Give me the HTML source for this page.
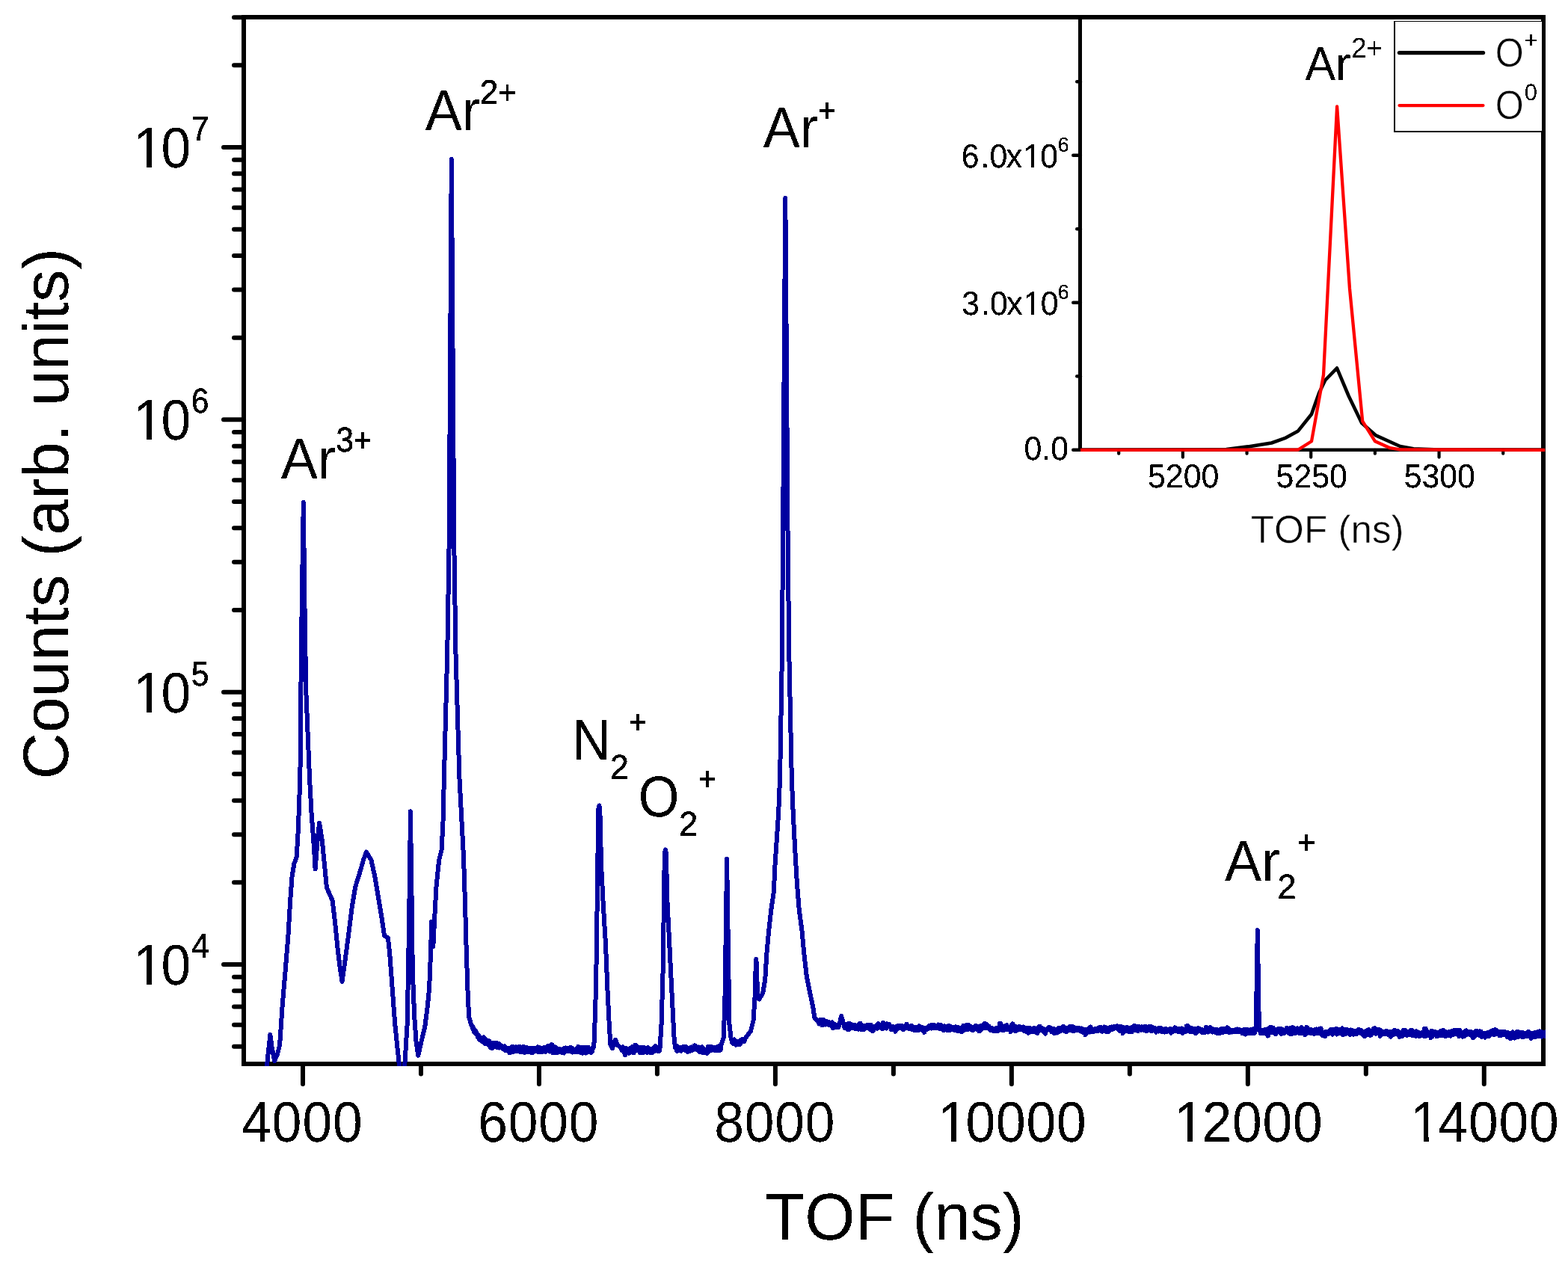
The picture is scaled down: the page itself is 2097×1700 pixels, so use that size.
<!DOCTYPE html>
<html lang="en"><head><meta charset="utf-8"><title>TOF spectrum</title>
<style>
html,body{margin:0;padding:0;background:#fff;}
body{width:2097px;height:1700px;overflow:hidden;}
svg{display:block;}
text{text-rendering:geometricPrecision;font-kerning:none;white-space:pre;}
</style></head>
<body>
<svg xmlns="http://www.w3.org/2000/svg" width="2097" height="1700" viewBox="0 0 2097 1700">
<defs><filter id="bw" x="-5%" y="-5%" width="110%" height="110%" color-interpolation-filters="sRGB"><feComponentTransfer><feFuncA type="discrete" tableValues="0 1"/></feComponentTransfer></filter></defs>
<rect width="2097" height="1700" fill="#fff"/>
<!-- main frame -->
<g stroke="#000" stroke-width="6" fill="none" stroke-linecap="butt">
<line x1="326.0" y1="20.0" x2="326.0" y2="1426.0"/>
<line x1="323.0" y1="1423.0" x2="2067.0" y2="1423.0"/>
<line x1="326.0" y1="23.0" x2="2067.0" y2="23.0"/>
<line x1="2064.0" y1="23.0" x2="2064.0" y2="1423.0"/>
</g>
<!-- main ticks -->
<g stroke="#000" stroke-width="6" fill="none" stroke-linecap="round">
<line x1="313.0" y1="1399.67" x2="326.0" y2="1399.67"/>
<line x1="313.0" y1="1370.83" x2="326.0" y2="1370.83"/>
<line x1="313.0" y1="1346.44" x2="326.0" y2="1346.44"/>
<line x1="313.0" y1="1325.31" x2="326.0" y2="1325.31"/>
<line x1="313.0" y1="1306.67" x2="326.0" y2="1306.67"/>
<line x1="299.0" y1="1290.00" x2="326.0" y2="1290.00"/>
<line x1="313.0" y1="1180.33" x2="326.0" y2="1180.33"/>
<line x1="313.0" y1="1116.17" x2="326.0" y2="1116.17"/>
<line x1="313.0" y1="1070.65" x2="326.0" y2="1070.65"/>
<line x1="313.0" y1="1035.34" x2="326.0" y2="1035.34"/>
<line x1="313.0" y1="1006.50" x2="326.0" y2="1006.50"/>
<line x1="313.0" y1="982.11" x2="326.0" y2="982.11"/>
<line x1="313.0" y1="960.98" x2="326.0" y2="960.98"/>
<line x1="313.0" y1="942.34" x2="326.0" y2="942.34"/>
<line x1="299.0" y1="925.67" x2="326.0" y2="925.67"/>
<line x1="313.0" y1="816.00" x2="326.0" y2="816.00"/>
<line x1="313.0" y1="751.84" x2="326.0" y2="751.84"/>
<line x1="313.0" y1="706.32" x2="326.0" y2="706.32"/>
<line x1="313.0" y1="671.01" x2="326.0" y2="671.01"/>
<line x1="313.0" y1="642.17" x2="326.0" y2="642.17"/>
<line x1="313.0" y1="617.78" x2="326.0" y2="617.78"/>
<line x1="313.0" y1="596.65" x2="326.0" y2="596.65"/>
<line x1="313.0" y1="578.01" x2="326.0" y2="578.01"/>
<line x1="299.0" y1="561.34" x2="326.0" y2="561.34"/>
<line x1="313.0" y1="451.67" x2="326.0" y2="451.67"/>
<line x1="313.0" y1="387.51" x2="326.0" y2="387.51"/>
<line x1="313.0" y1="341.99" x2="326.0" y2="341.99"/>
<line x1="313.0" y1="306.68" x2="326.0" y2="306.68"/>
<line x1="313.0" y1="277.84" x2="326.0" y2="277.84"/>
<line x1="313.0" y1="253.45" x2="326.0" y2="253.45"/>
<line x1="313.0" y1="232.32" x2="326.0" y2="232.32"/>
<line x1="313.0" y1="213.68" x2="326.0" y2="213.68"/>
<line x1="299.0" y1="197.01" x2="326.0" y2="197.01"/>
<line x1="313.0" y1="87.34" x2="326.0" y2="87.34"/>
<line x1="313.0" y1="23.18" x2="326.0" y2="23.18"/>
<line x1="405.00" y1="1423.0" x2="405.00" y2="1450.0"/>
<line x1="562.98" y1="1423.0" x2="562.98" y2="1436.5"/>
<line x1="720.96" y1="1423.0" x2="720.96" y2="1450.0"/>
<line x1="878.94" y1="1423.0" x2="878.94" y2="1436.5"/>
<line x1="1036.92" y1="1423.0" x2="1036.92" y2="1450.0"/>
<line x1="1194.90" y1="1423.0" x2="1194.90" y2="1436.5"/>
<line x1="1352.88" y1="1423.0" x2="1352.88" y2="1450.0"/>
<line x1="1510.86" y1="1423.0" x2="1510.86" y2="1436.5"/>
<line x1="1668.84" y1="1423.0" x2="1668.84" y2="1450.0"/>
<line x1="1826.82" y1="1423.0" x2="1826.82" y2="1436.5"/>
<line x1="1984.80" y1="1423.0" x2="1984.80" y2="1450.0"/>
</g>
<!-- main text -->
<g font-family="'Liberation Sans', Arial, Helvetica, sans-serif" fill="#000" filter="url(#bw)">
<text transform="translate(0 1317) scale(0.97 1.04)"><tspan x="183.94 222.15" y="0" font-size="73.6">10</tspan><tspan x="263.85" y="-34.71" font-size="44.65" textLength="24.54" lengthAdjust="spacingAndGlyphs" stroke="#000" stroke-width="0.4">4</tspan></text>
<text transform="translate(0 952.67) scale(0.97 1.04)"><tspan x="183.94 222.15" y="0" font-size="73.6">10</tspan><tspan x="263.75" y="-34.71" font-size="44.65" textLength="24.54" lengthAdjust="spacingAndGlyphs" stroke="#000" stroke-width="0.4">5</tspan></text>
<text transform="translate(0 588.34) scale(0.97 1.04)"><tspan x="183.94 222.15" y="0" font-size="73.6">10</tspan><tspan x="263.56" y="-34.71" font-size="44.65" textLength="24.54" lengthAdjust="spacingAndGlyphs" stroke="#000" stroke-width="0.4">6</tspan></text>
<text transform="translate(0 224.01) scale(0.97 1.04)"><tspan x="183.94 222.15" y="0" font-size="73.6">10</tspan><tspan x="263.69" y="-34.71" font-size="44.65" textLength="24.54" lengthAdjust="spacingAndGlyphs" stroke="#000" stroke-width="0.4">7</tspan></text>
<text transform="translate(0 1526.8) scale(0.97 1.04)"><tspan x="333.35 375.13 416.91 458.68" y="0" font-size="73.6">4000</tspan></text>
<text transform="translate(0 1526.8) scale(0.97 1.04)"><tspan x="659.09 700.86 742.64 784.42" y="0" font-size="73.6">6000</tspan></text>
<text transform="translate(0 1526.8) scale(0.97 1.04)"><tspan x="984.82 1026.59 1068.37 1110.15" y="0" font-size="73.6">8000</tspan></text>
<text transform="translate(0 1526.8) scale(0.97 1.04)"><tspan x="1293.23 1331.44 1373.21 1414.99 1456.77" y="0" font-size="73.6">10000</tspan></text>
<text transform="translate(0 1526.8) scale(0.97 1.04)"><tspan x="1618.96 1657.17 1698.95 1740.72 1782.5" y="0" font-size="73.6">12000</tspan></text>
<text transform="translate(0 1526.8) scale(0.97 1.04)"><tspan x="1944.69 1982.9 2024.68 2066.46 2108.23" y="0" font-size="73.6">14000</tspan></text>
<text transform="translate(0 1658) scale(1.0 1.02)"><tspan x="1023.35" y="0" font-size="86.6">TOF (ns)</tspan></text>
<text transform="translate(91 687.2) rotate(-90)" font-size="86.4" text-anchor="middle">Counts (arb. units)</text>
<text transform="translate(0 639.7) scale(1.0 1.04)"><tspan x="375.76" y="0" font-size="73.6">Ar</tspan><tspan x="449.17" y="-34.81" font-size="44.65" textLength="23.8" lengthAdjust="spacingAndGlyphs" stroke="#000" stroke-width="0.5">3</tspan><tspan x="472.98" y="-34.52" font-size="43.42" textLength="24.12" lengthAdjust="spacingAndGlyphs" stroke="#000" stroke-width="0.6">+</tspan></text>
<text transform="translate(0 174) scale(1.0 1.04)"><tspan x="568.76" y="0" font-size="73.6">Ar</tspan><tspan x="641.68" y="-33.94" font-size="44.24" stroke="#000" stroke-width="0.5">2</tspan><tspan x="666.38" y="-33.37" font-size="43.42" textLength="24.12" lengthAdjust="spacingAndGlyphs" stroke="#000" stroke-width="0.6">+</tspan></text>
<text transform="translate(0 197.3) scale(1.0 1.04)"><tspan x="1020.76" y="0" font-size="73.6">Ar</tspan><tspan x="1093.88" y="-33.37" font-size="43.42" textLength="24.12" lengthAdjust="spacingAndGlyphs" stroke="#000" stroke-width="0.6">+</tspan></text>
<text transform="translate(0 1016) scale(1.0 1.04)"><tspan x="764.91" y="0" font-size="73.6" textLength="51.82" lengthAdjust="spacingAndGlyphs">N</tspan><tspan x="815.72" y="24.9" font-size="44.65" textLength="25.23" lengthAdjust="spacingAndGlyphs" stroke="#000" stroke-width="0.5">2</tspan><tspan x="840.88" y="-33.85" font-size="43.42" textLength="24.12" lengthAdjust="spacingAndGlyphs" stroke="#000" stroke-width="0.6">+</tspan></text>
<text transform="translate(0 1092.2) scale(1.0 1.04)"><tspan x="853.77" y="0" font-size="74.31" textLength="54.67" lengthAdjust="spacingAndGlyphs">O</tspan><tspan x="907.92" y="24.81" font-size="44.65" textLength="25.23" lengthAdjust="spacingAndGlyphs" stroke="#000" stroke-width="0.5">2</tspan><tspan x="934.08" y="-34.04" font-size="43.42" textLength="24.12" lengthAdjust="spacingAndGlyphs" stroke="#000" stroke-width="0.6">+</tspan></text>
<text transform="translate(0 1178.4) scale(1.0 1.04)"><tspan x="1638.06" y="0" font-size="73.6">Ar</tspan><tspan x="1708.32" y="23.08" font-size="44.65" textLength="25.23" lengthAdjust="spacingAndGlyphs" stroke="#000" stroke-width="0.5">2</tspan><tspan x="1735.18" y="-35.48" font-size="43.42" textLength="24.12" lengthAdjust="spacingAndGlyphs" stroke="#000" stroke-width="0.6">+</tspan></text>
</g>
<!-- TOF spectrum -->
<clipPath id="cm"><rect x="326.0" y="23.0" width="1741.0" height="1403.0"/></clipPath>
<polyline clip-path="url(#cm)" points="356.5,1430 358.5,1410 361.4,1384 363.5,1400 367.1,1419 371,1410 374.1,1397.6 377.6,1345.9 381.6,1298.8 385.4,1251.8 388.2,1204.7 390.6,1171.8 393.4,1155.3 396.7,1145.9 398.8,1110.6 400.5,1063.5 401.4,1040 402.4,922 403.8,800 405.8,672 407.3,800 409.2,922 414,1040 416.5,1087 420,1134 421.6,1162.4 424.7,1122 427.1,1101 430.6,1122.4 434.1,1157.6 436.9,1187 444.7,1204.7 448.2,1235.3 451.8,1270.6 455.3,1298.8 457.6,1312.9 461.2,1287 465.9,1251.8 470.6,1214.1 475.3,1185.9 481.2,1167 485.9,1150.6 489.9,1139.5 496.5,1150.6 501.2,1171.8 505.9,1200 510.6,1228.2 514.1,1251.8 518.8,1254 521.2,1275.3 524.7,1322.4 528.2,1369.4 531.8,1404.7 534.1,1426 536,1445 539,1445 541.2,1426 544.7,1369 546.4,1275 548.2,1157.6 548.9,1085.4 550.6,1204.7 551.8,1298.8 554.1,1357.6 556.5,1393 559.3,1411.8 563.5,1393 568.2,1374 571.8,1345.9 574.1,1322.4 576,1275.3 577.2,1233 579.3,1265.9 581.2,1228.2 583.5,1185.9 587.1,1150.6 590.6,1136.5 592.5,1098.8 593.9,1040 598.2,875 600.6,729 603.8,213 607.3,729 609.5,875 614.4,1040 616.9,1087 620,1145.9 621.9,1204.7 623.5,1263.5 625.4,1322.4 627.1,1360 630.6,1371.8 631.5,1372.5 632,1374.9 632.4,1376.3 632.9,1373.8 633.3,1376.3 633.8,1379.2 634.2,1380.7 634.8,1377.8 635.2,1377.7 635.7,1380.5 636.1,1382.6 636.6,1379.8 637,1380.9 637.5,1383.3 638,1382.4 638.5,1385.5 639,1387 639.5,1383.9 640,1385.6 640.5,1389.1 641,1390.4 641.5,1386.8 642,1387.8 642.5,1391.4 643,1391.6 643.5,1388 644,1389.2 644.5,1393.1 645,1392.6 645.5,1388.6 646,1390 646.5,1393.2 647,1387.3 647.5,1394 648,1395.5 648.5,1388.7 649,1390.1 649.5,1394.5 650,1396.4 650.5,1392 651,1391.4 651.5,1395.8 652,1396.3 652.5,1391.9 653,1391.6 653.5,1397.4 654,1398.1 654.5,1392.4 655,1393.9 655.5,1400.3 656,1401.1 656.5,1394.7 657,1397.2 657.5,1401.3 658,1402.4 658.5,1398.3 659,1396.7 659.5,1400.3 660,1399.3 660.5,1395.7 661,1394.7 661.5,1398.8 662,1399.5 662.5,1395.4 663,1394.6 663.5,1400.3 664,1400.6 664.5,1394.9 665,1395.7 665.5,1399.3 666,1399.3 666.5,1395.7 667,1398.4 667.5,1401.7 668,1400.6 668.5,1397.2 669,1398 669.5,1400.9 670,1401.4 670.5,1398.4 671,1399 671.5,1402.2 672,1402.6 672.5,1399.5 673,1400.2 673.5,1403.6 674,1403.2 674.5,1399.8 675,1399.5 675.5,1403.6 676,1405.1 676.5,1401 677,1401.4 677.5,1404.6 678,1405.3 678.5,1402.1 679,1402.3 679.5,1405.8 680,1405.7 680.5,1402.2 681,1403.7 681.5,1408.5 682,1408.1 682.5,1403.2 683,1402.5 683.5,1405.1 684,1404.1 684.5,1401.5 685,1400 685.5,1407.2 686,1407.1 686.5,1400 687,1400.6 687.5,1405.7 688,1405.8 688.5,1400.6 689,1400.5 689.5,1406 690,1405.8 690.5,1400.4 691,1403 691.5,1405.3 692,1405.7 692.5,1403.5 693,1400.3 693.5,1405.1 694,1404.5 694.5,1399.8 695,1402.1 695.5,1407 696,1406.3 696.5,1401.4 697,1400.9 697.5,1406.2 698,1407.3 698.5,1402 699,1400.5 699.5,1404.4 700,1404.1 700.5,1400.2 701,1402.1 701.5,1406.9 702,1407.9 702.5,1403.1 703,1402.2 703.5,1405.5 704,1405.5 704.5,1402.1 705,1401.2 705.5,1406.2 706,1407.1 706.5,1402.2 707,1401.6 707.5,1404.6 708,1405.7 708.5,1402.7 709.1,1402.5 709.6,1407.5 710.1,1407.7 710.6,1402.7 711.1,1401.6 711.6,1408.5 712.1,1408.5 712.6,1401.6 713.1,1403 713.6,1405.1 714.1,1404.7 714.6,1402.6 715.1,1401.7 715.6,1405.7 716.1,1405.9 716.6,1401.9 717.1,1401.6 717.6,1404.1 718.1,1405.7 718.6,1403.2 719.1,1400.4 719.6,1407.1 720.1,1407.4 720.6,1400.6 721.1,1401.9 721.6,1406.7 722.1,1406.5 722.6,1401.7 723.1,1402 723.6,1406.2 724.1,1406.9 724.6,1402.6 725.1,1404.3 725.6,1407.1 726.1,1406.8 726.6,1404 727.1,1401.3 727.6,1405.9 728.1,1405.6 728.6,1401 729.1,1401.8 729.6,1406.9 730.1,1406.5 730.6,1401.5 731.1,1401 731.6,1403.5 732.1,1403.6 732.6,1401.1 733.1,1398.7 733.6,1404.3 734.1,1405.8 734.6,1400.2 735.1,1403.7 735.6,1406.7 736.1,1406 736.6,1402.9 737.1,1397.2 737.6,1406.1 738.1,1406.4 738.6,1397.5 739.1,1403.1 739.6,1408.2 740.1,1407.2 740.6,1402.1 741.1,1400.8 741.6,1406 742.1,1405.4 742.6,1400.3 743.1,1403.6 743.6,1408.5 744.1,1407 744.6,1402.1 745.1,1403.7 745.6,1407.8 746.1,1407.6 746.6,1403.5 747.1,1403.5 747.6,1407 748.1,1406.7 748.6,1403.2 749.1,1403.9 749.6,1406.4 750.1,1406.7 750.6,1404.3 751.1,1403.8 751.6,1408.1 752.1,1408.1 752.6,1403.8 753.1,1402.9 753.6,1408.2 754.1,1408.5 754.6,1403.2 755.1,1401.9 755.6,1405.1 756.1,1404.6 756.6,1401.4 757.1,1403 757.6,1405.9 758.1,1404.9 758.6,1402 759.1,1401.9 759.6,1404.3 760.1,1404.8 760.6,1402.3 761.1,1402.5 761.6,1406.3 762.1,1405.1 762.6,1401.3 763.1,1401 763.6,1404.7 764.1,1405.1 764.6,1401.4 765.2,1403.8 765.7,1407.5 766.2,1406.9 766.7,1403.3 767.2,1403.9 767.7,1406.9 768.2,1407.3 768.7,1404.3 769.2,1404 769.7,1406.8 770.2,1407 770.7,1404.2 771.2,1402.8 771.7,1407 772.2,1406.4 772.7,1402.2 773.2,1400 773.7,1405.6 774.2,1406.1 774.7,1400.5 775.2,1401.2 775.7,1407.6 776.2,1408 776.7,1401.6 777.2,1400.8 777.7,1406.2 778.2,1406.9 778.7,1401.5 779.2,1401.8 779.7,1408.7 780.2,1407.7 780.7,1400.8 781.2,1403 781.7,1406 782.2,1406.5 782.7,1403.5 783.2,1402 783.7,1408.6 784.2,1407.9 784.7,1401.4 785.2,1400.7 785.7,1406.2 786.2,1406.2 786.7,1400.7 787.2,1402.1 787.7,1404.6 788.2,1405.9 788.7,1403.4 789.2,1404.5 789.7,1407.6 790.2,1407.9 790.7,1404.7 791.2,1402.4 791.7,1406.2 792.2,1406.3 792.7,1402.5 793.6,1401 794.7,1393 797,1322 798.1,1251.8 799,1181.2 799.9,1110.6 800.5,1081 801.4,1077.5 802.3,1082 804.1,1157.6 806.5,1204.7 810,1263.5 812.4,1322.4 814.7,1369.4 816.4,1397.6 819,1402 822.9,1390.6 826,1398 830,1401 831,1401.1 831.5,1405 832,1405.1 832.5,1401.2 833,1400.5 833.5,1404.7 834,1405.7 834.5,1401.6 835,1402.6 835.5,1409.5 836,1411.1 836.5,1404.2 837.1,1402.9 837.6,1409.1 838.1,1408.5 838.6,1402.3 839.1,1403.5 839.6,1408.1 840.1,1408.3 840.6,1403.6 841.1,1403.7 841.6,1408.7 842.1,1407.4 842.6,1402.4 843.1,1403.6 843.6,1407 844.1,1406.9 844.6,1403.5 845.1,1400.3 845.6,1406.7 846.1,1407.8 846.6,1401.5 847.2,1403.5 847.7,1408.2 848.2,1406 848.7,1401.3 849.2,1398 849.7,1404.2 850.2,1404.2 850.7,1398.1 851.2,1402 851.7,1404.5 852.2,1404.2 852.7,1401.7 853.2,1400.4 853.7,1404.3 854.2,1405.3 854.7,1401.3 855.2,1401.6 855.7,1408.1 856.2,1407.1 856.8,1400.6 857.3,1403.1 857.8,1407.8 858.3,1408 858.8,1403.3 859.3,1404.4 859.8,1408.3 860.3,1408.3 860.8,1404.5 861.3,1400.8 861.8,1406.6 862.3,1407.3 862.8,1401.5 863.3,1404 863.8,1406.7 864.3,1406.8 864.8,1404.1 865.3,1401.4 865.8,1407.8 866.4,1407.5 866.9,1401.1 867.4,1403.8 867.9,1407.1 868.4,1407.1 868.9,1403.7 869.4,1403.5 869.9,1408.1 870.4,1408 870.9,1403.4 871.4,1404 871.9,1406.8 872.4,1408.4 872.9,1405.6 873.4,1402.2 873.9,1406.2 874.4,1406.5 874.9,1402.5 875.4,1400.2 875.9,1405.9 876.5,1404.8 877,1399.1 877.5,1401.5 878,1404.2 878.5,1404.4 879,1401.7 879.5,1400.9 880,1406.2 880.5,1406.1 881,1400.7 881.5,1401.8 882,1406 882.6,1401 884.6,1369.4 886.6,1298.8 887.6,1228.2 888.6,1157.6 889.2,1139.5 890,1136.5 890.8,1140.5 892.4,1204.7 895.9,1275.3 899.4,1345.9 901.8,1393 903.4,1402 904.5,1398.4 905,1404.9 905.5,1405.9 906,1399.4 906.5,1402.8 907,1405.5 907.5,1405.3 908,1402.7 908.5,1401 909,1405.1 909.5,1405.3 910,1401.3 910.6,1402.7 911.1,1405.7 911.6,1404.5 912.1,1401.5 912.6,1400.5 913.1,1403.4 913.6,1403.5 914.1,1400.6 914.6,1399.7 915.1,1403.3 915.6,1403.6 916.1,1400 916.6,1400.5 917.1,1405.2 917.6,1405 918.1,1400.2 918.6,1401.6 919.1,1406.3 919.6,1407 920.1,1402.4 920.6,1402.4 921.1,1405.5 921.6,1405 922.1,1401.9 922.7,1403.2 923.2,1405.9 923.7,1404.6 924.2,1401.9 924.7,1400.4 925.2,1404.1 925.7,1404.6 926.2,1400.9 926.7,1400.8 927.2,1404.4 927.7,1404.2 928.2,1400.6 928.7,1398.3 929.2,1401.8 929.7,1402.5 930.2,1399.1 930.7,1399.9 931.2,1403.6 931.7,1404 932.2,1400.4 932.7,1401.3 933.2,1404.5 933.8,1405.3 934.2,1402 934.8,1400.5 935.3,1406 935.8,1406.8 936.3,1401.4 936.8,1400.9 937.3,1407.2 937.8,1407.1 938.3,1400.8 938.8,1400.5 939.3,1407 939.8,1408.4 940.3,1402 940.8,1404.3 941.3,1408.5 941.8,1407.7 942.3,1403.5 942.8,1404.3 943.3,1407.6 943.8,1406.8 944.3,1403.5 944.8,1403.8 945.3,1408.8 945.9,1408.9 946.4,1403.9 946.9,1400 947.4,1405.9 947.9,1405.5 948.4,1399.6 948.9,1400.4 949.4,1405.6 949.9,1405.1 950.4,1399.9 950.9,1401.3 951.4,1405.2 951.9,1404.5 952.4,1400.5 952.9,1401.3 953.4,1404.3 953.9,1404.4 954.4,1401.4 954.9,1401 955.4,1404.4 955.9,1404.9 956.4,1401.6 956.9,1401.9 957.4,1404.5 958,1403.9 958.5,1401.3 959,1400.3 959.5,1404.7 960,1405.3 960.5,1400.9 961,1399.5 961.5,1405.1 962,1404.3 962.5,1398.7 963,1401.5 963.5,1404.6 964.1,1399 967.6,1388 969.3,1345.9 970.7,1251.8 972.1,1149 974,1275.3 975.4,1369.4 977.5,1388 978.5,1391.2 979,1394 979.4,1395 979.9,1392.2 980.3,1392 980.8,1396.1 981.2,1394.5 981.8,1390.3 982.2,1391.7 982.7,1394.9 983.1,1395.4 983.6,1392.2 984,1393 984.5,1397.7 985,1392.7 985.5,1395.3 986,1395.8 986.5,1393.2 987,1393.4 987.5,1396 988,1395.5 988.5,1392.9 989,1392.4 989.5,1397.3 990,1396.3 990.5,1391.4 991,1390.9 991.5,1393.4 992,1393.2 992.5,1390.7 993,1389.8 993.5,1392.9 994,1392.9 994.5,1389.8 995,1390.2 995.5,1392.9 996,1391.6 996.5,1389 997,1388.2 1004.1,1378.8 1007.6,1364.7 1009.5,1334.1 1010.5,1298.8 1011.4,1283 1013.3,1334 1015.4,1336.5 1020.3,1328 1023.2,1310.6 1025.4,1275.3 1028,1247 1031.2,1217.5 1034.8,1193 1036.5,1157.6 1038.8,1122.4 1041.2,1087 1043.1,1040 1045.9,875 1047,722 1050.3,265 1053.6,722 1055.3,875 1058.8,1040 1060.7,1087 1063.1,1134 1065.9,1181.2 1068.7,1216.5 1072.5,1244.7 1075.3,1275.3 1078.8,1305.9 1083.5,1329.4 1087.1,1345.9 1089.4,1361.2 1094.1,1365.9 1095,1366 1095.5,1369.5 1096,1369.1 1096.5,1365.7 1097,1363.8 1097.5,1369.5 1098,1369.9 1098.5,1364.2 1099,1365.8 1099.5,1371.4 1100,1370.6 1100.5,1365 1101,1363.9 1101.5,1367.7 1102,1368.8 1102.5,1365 1103,1365.3 1103.5,1369.5 1104,1370.5 1104.5,1366.3 1105,1366 1105.5,1368.9 1106,1369.2 1106.5,1366.4 1107,1366.5 1107.5,1369.8 1108,1370.5 1108.5,1367.1 1109,1367.6 1109.5,1370.6 1110,1371.3 1110.5,1368.3 1111,1368.1 1111.5,1371.4 1112,1372.2 1112.5,1368.9 1113,1367.3 1113.5,1373.6 1114,1375.1 1114.5,1368.9 1115,1370.7 1115.5,1374.4 1116,1374 1116.5,1370.2 1117,1371 1117.5,1374.4 1118,1374.1 1118.5,1370.7 1119,1370.8 1119.5,1374.4 1120,1374.5 1120.5,1371 1121,1370.5 1121.5,1373.9 1122.4,1370.6 1125.2,1359 1128.2,1369.4 1129,1369.8 1129.5,1375 1130,1375.4 1130.5,1370.2 1131,1370.3 1131.5,1374.2 1132,1374.2 1132.5,1370.3 1133,1372.8 1133.5,1376.9 1134,1374.9 1134.5,1370.7 1135,1368.7 1135.5,1376.6 1136,1376.8 1136.5,1368.9 1137,1370 1137.5,1375.2 1138,1375.4 1138.5,1370.2 1139,1372.9 1139.5,1375 1140,1374.4 1140.5,1372.3 1141,1370.7 1141.5,1375.4 1142,1375.3 1142.5,1370.6 1143,1373.2 1143.5,1375.8 1144,1375.2 1144.5,1372.6 1145,1371.9 1145.5,1375.1 1146,1376.4 1146.5,1373.2 1147,1373.2 1147.5,1376.7 1148,1376.4 1148.5,1373 1149,1369.1 1149.5,1375.3 1150,1375 1150.5,1368.7 1151,1371.4 1151.5,1376.8 1152,1377.1 1152.5,1371.7 1153,1373.2 1153.5,1376.2 1154,1375.3 1154.5,1372.2 1155,1371.8 1155.5,1376.7 1156,1376.6 1156.5,1371.8 1157,1372.4 1157.5,1375.1 1158,1375.2 1158.5,1372.5 1159,1371.3 1159.5,1374.9 1160,1374.7 1160.5,1371 1161,1371.7 1161.5,1375.2 1162,1375.4 1162.5,1371.9 1163,1370.8 1163.5,1376.8 1164,1376.7 1164.5,1370.7 1165,1372.1 1165.5,1377.7 1166,1378.2 1166.5,1372.6 1167,1373.8 1167.5,1379.1 1168,1378.7 1168.5,1373.4 1169,1374.3 1169.5,1376.3 1170,1375.8 1170.5,1373.8 1171,1372.6 1171.5,1374.2 1172,1373.9 1172.5,1372.3 1173,1370.6 1173.5,1375.7 1174,1374.3 1174.5,1369.2 1175,1371.1 1175.5,1373.7 1176,1374.2 1176.5,1371.7 1177,1372.8 1177.5,1374.3 1178,1373.2 1178.5,1371.7 1179,1370.5 1179.5,1375.5 1180,1376.3 1180.5,1371.3 1181,1367.7 1181.5,1373.6 1182,1375.4 1182.5,1369.5 1183,1370.4 1183.5,1374.7 1184,1374 1184.5,1369.7 1185,1370.2 1185.5,1375.6 1186,1374.8 1186.5,1369.4 1187,1370.6 1187.5,1373.1 1188,1372.3 1188.5,1369.8 1189,1370 1189.5,1372.1 1190,1373.8 1190.5,1371.7 1191,1372.4 1191.5,1376.1 1192,1377.4 1192.5,1373.6 1193,1373.9 1193.5,1375.8 1194,1374.7 1194.5,1372.8 1195,1373.2 1195.5,1376.7 1196,1377.6 1196.5,1374.1 1197,1374.8 1197.5,1379.7 1198,1378.2 1198.5,1373.3 1199,1374 1199.5,1376.8 1200,1375.5 1200.5,1372.7 1201,1371.9 1201.5,1374.3 1202,1374.7 1202.5,1372.3 1203,1371.6 1203.5,1375 1204,1375.3 1204.5,1371.8 1205,1371.9 1205.5,1375.4 1206,1375.4 1206.5,1371.9 1207,1373.4 1207.5,1377 1208,1377.4 1208.5,1373.9 1209,1373.3 1209.5,1375.1 1210,1374.8 1210.5,1373.1 1211,1371.9 1211.5,1375.3 1212,1373.2 1212.5,1369.7 1213,1371.5 1213.5,1374.7 1214,1375.1 1214.5,1371.9 1215,1373.1 1215.5,1375.1 1216,1376.3 1216.5,1374.3 1217,1373.8 1217.5,1375.9 1218,1374.6 1218.5,1372.6 1219,1371.6 1219.5,1376 1220,1377.3 1220.5,1372.9 1221,1374.2 1221.5,1375.8 1222,1377.2 1222.5,1375.7 1223,1375.1 1223.5,1378.4 1224,1378.2 1224.5,1374.8 1225,1373.6 1225.5,1376.1 1226,1376.3 1226.5,1373.8 1227,1373.7 1227.5,1377.8 1228,1378.1 1228.5,1374 1229,1372.4 1229.5,1374.3 1230,1375 1230.5,1373.1 1231,1373.4 1231.5,1375.7 1232,1376.2 1232.5,1373.8 1233,1373.7 1233.5,1377.2 1234,1378.8 1234.5,1375.4 1235,1375.9 1235.5,1380 1236,1380.9 1236.5,1376.8 1237,1375.4 1237.5,1377.3 1238,1376.6 1238.5,1374.7 1239,1375.2 1239.5,1377.2 1240,1375.7 1240.5,1373.7 1241,1373.4 1241.5,1375.8 1242,1375.4 1242.5,1373 1243,1371.8 1243.5,1373.7 1244,1373.3 1244.5,1371.4 1245,1372 1245.5,1375.5 1246,1374.2 1246.5,1370.7 1247,1371.7 1247.5,1373.7 1248,1373.9 1248.5,1372 1249,1370.7 1249.5,1373.7 1250,1374.9 1250.5,1371.9 1251,1371.8 1251.5,1374.8 1252,1374.9 1252.5,1371.9 1253,1371.6 1253.5,1374.1 1254,1374.5 1254.5,1371.9 1255,1370.5 1255.5,1375.4 1256,1375.5 1256.5,1370.6 1257,1372.1 1257.5,1376.4 1258,1375.4 1258.5,1371.1 1259,1373.2 1259.5,1375.2 1260,1374.7 1260.5,1372.7 1261,1373.9 1261.5,1378 1262,1378.3 1262.5,1374.1 1263,1372.3 1263.5,1375 1264,1375.7 1264.5,1373 1265,1374.3 1265.5,1376.5 1266,1377.7 1266.5,1375.4 1267,1374.8 1267.5,1378.4 1268,1376.8 1268.5,1373.3 1269,1371.7 1269.5,1377.4 1270,1378 1270.5,1372.4 1271,1374.5 1271.5,1376.6 1272,1376.4 1272.5,1374.3 1273,1374 1273.5,1376.7 1274,1377 1274.5,1374.3 1275,1376.1 1275.5,1377.5 1276,1377.6 1276.5,1376.2 1277,1374 1277.5,1376.7 1278,1376 1278.5,1373.3 1279,1374.6 1279.5,1378.6 1280,1377.6 1280.5,1373.6 1281,1374.2 1281.5,1378.8 1282,1378.9 1282.5,1374.4 1283,1374.4 1283.5,1376.3 1284,1377.5 1284.5,1375.6 1285,1375.4 1285.5,1379.3 1286,1380.1 1286.5,1376.2 1287,1373.6 1287.5,1377.8 1288,1376 1288.5,1371.8 1289,1372.7 1289.5,1376.8 1290,1377.7 1290.5,1373.6 1291,1373.5 1291.5,1375.8 1292,1375.9 1292.5,1373.6 1293,1370.7 1293.5,1377.2 1294,1377.1 1294.5,1370.6 1295,1371.9 1295.5,1374.5 1296,1374.4 1296.5,1371.8 1297,1373.1 1297.5,1375.4 1298,1375.4 1298.5,1373.2 1299,1374.3 1299.5,1377.5 1300,1377.4 1300.5,1374.2 1301,1375.4 1301.5,1377.8 1302,1377.1 1302.5,1374.6 1303,1373.8 1303.5,1375.4 1304,1375 1304.5,1373.4 1305,1371.8 1305.5,1374.5 1306,1376.3 1306.5,1373.7 1307,1372.9 1307.5,1377.5 1308,1377.4 1308.5,1372.8 1309,1373.2 1309.5,1379.4 1310,1379 1310.5,1372.8 1311,1372.3 1311.5,1377 1312,1377.2 1312.5,1372.5 1313,1372.8 1313.5,1375.9 1314,1374.5 1314.5,1371.4 1315,1370.9 1315.5,1375.2 1316,1375.2 1316.5,1370.9 1317,1368.6 1317.5,1373.6 1318,1374.7 1318.5,1369.7 1319,1371.9 1319.5,1375.1 1320,1374.4 1320.5,1371.2 1321,1371.3 1321.5,1374.4 1322,1375.7 1322.5,1372.6 1323,1374.5 1323.5,1376.9 1324,1377 1324.5,1374.6 1325,1375.1 1325.5,1378.3 1326,1378.1 1326.5,1375 1327,1376.1 1327.5,1378 1328,1377.9 1328.5,1376 1329,1375.8 1329.5,1379.1 1330,1378.9 1330.5,1375.5 1331,1375.5 1331.5,1378.2 1332,1377.9 1332.5,1375.1 1333,1375.2 1333.5,1379.4 1334,1379.5 1334.5,1375.4 1335,1375.3 1335.5,1378.5 1336,1377.4 1336.5,1374.3 1337,1369.2 1337.5,1376.1 1338,1376 1338.5,1369.1 1339,1374.9 1339.5,1376.7 1340,1376.2 1340.5,1374.4 1341,1375.2 1341.5,1378.1 1342,1377.6 1342.5,1374.7 1343,1374.2 1343.5,1377.7 1344,1376.8 1344.5,1373.3 1345,1372 1345.5,1376.6 1346,1375.7 1346.5,1371.1 1347,1375.2 1347.5,1377.3 1348,1376.6 1348.5,1374.5 1349,1373.9 1349.5,1377.1 1350,1377.8 1350.5,1374.6 1351,1373.9 1351.5,1380.1 1352,1379.2 1352.5,1373 1353,1370.4 1353.5,1376.2 1354,1375.1 1354.5,1369.3 1355,1372.8 1355.5,1375.7 1356,1377.4 1356.5,1374.6 1357,1375.7 1357.5,1378.9 1358,1379.1 1358.5,1375.9 1359,1373.2 1359.5,1377.6 1360,1378.4 1360.5,1374 1361,1374.5 1361.5,1376.7 1362,1375.3 1362.5,1373.1 1363,1372.8 1363.5,1376.2 1364,1377.3 1364.5,1373.9 1365,1374.8 1365.5,1376.9 1366,1376.7 1366.5,1374.6 1367,1373.6 1367.5,1377.2 1368,1377 1368.5,1373.4 1369,1376 1369.5,1378.9 1370,1378.7 1370.5,1375.8 1371,1374.7 1371.5,1379.3 1372,1379.6 1372.5,1375 1373,1376.5 1373.5,1379.7 1374,1378.9 1374.5,1375.7 1375,1376.9 1375.5,1381.7 1376,1379.4 1376.5,1374.6 1377,1375 1377.5,1378.3 1378,1378.6 1378.5,1375.3 1379,1376.4 1379.5,1380.1 1380,1380.1 1380.5,1376.3 1381,1377.1 1381.5,1380.3 1382,1379.4 1382.5,1376.2 1383,1374.7 1383.5,1378.6 1384,1380.2 1384.5,1376.3 1385,1377.1 1385.5,1380.2 1386,1381.1 1386.5,1378 1387,1378.1 1387.5,1381.8 1388,1379.9 1388.5,1376.3 1389,1373.6 1389.5,1378.4 1390,1377.5 1390.5,1372.8 1391,1375.6 1391.5,1377.5 1392,1377.7 1392.5,1375.8 1393,1375.6 1393.5,1377.6 1394,1377.3 1394.5,1375.3 1395,1376.9 1395.5,1379.4 1396,1380.6 1396.5,1378.2 1397,1377.5 1397.5,1382.2 1398,1382.5 1398.5,1377.7 1399,1377 1399.5,1379.2 1400,1378.1 1400.5,1375.8 1401,1375.7 1401.5,1377.7 1402,1376.7 1402.5,1374.6 1403,1373.8 1403.5,1376.9 1404,1377.6 1404.5,1374.5 1405,1374.9 1405.5,1378.6 1406,1379.9 1406.5,1376.3 1407,1377.6 1407.5,1380.2 1408,1379.1 1408.5,1376.5 1409,1376.1 1409.5,1380.8 1410,1382.3 1410.5,1377.6 1411,1377.7 1411.5,1379.8 1412,1379.1 1412.5,1376.9 1413,1377.2 1413.5,1381.5 1414,1380.5 1414.5,1376.2 1415,1375.5 1415.5,1379.5 1416,1380.2 1416.5,1376.2 1417,1375.9 1417.5,1378 1418,1376.6 1418.5,1374.6 1419,1375.3 1419.5,1378.5 1420,1378.4 1420.5,1375.2 1421,1373.4 1421.5,1377.7 1422,1377.5 1422.5,1373.2 1423,1373.5 1423.5,1378 1424,1378.8 1424.5,1374.3 1425,1375 1425.5,1380.1 1426,1380.3 1426.5,1375.1 1427,1375.3 1427.5,1377.9 1428,1377.2 1428.5,1374.6 1429,1375.4 1429.5,1378.1 1430,1378.1 1430.5,1375.4 1431,1373 1431.5,1377.3 1432,1377 1432.5,1372.7 1433,1374.8 1433.5,1378.7 1434,1377.5 1434.5,1373.6 1435,1373.4 1435.5,1378.2 1436,1379.1 1436.5,1374.2 1437,1374.7 1437.5,1376.7 1438,1376.7 1438.5,1374.7 1439,1375.3 1439.5,1378.1 1440,1377.7 1440.5,1374.9 1441,1375 1441.5,1377.8 1442,1377.5 1442.5,1374.6 1443,1375.6 1443.5,1377.7 1444,1378.4 1444.5,1376.2 1445,1375.9 1445.5,1379.6 1446,1379 1446.5,1375.3 1447,1376.1 1447.5,1380 1448,1380.5 1448.5,1376.7 1449,1377.3 1449.5,1379.8 1450,1379.8 1450.5,1377.3 1451,1378.7 1451.5,1384.2 1452,1382.8 1452.5,1377.3 1453,1378.1 1453.5,1380.1 1454,1380.2 1454.5,1378.2 1455,1376.6 1455.5,1380.6 1456,1380.5 1456.5,1376.5 1457,1374.8 1457.5,1380.6 1458,1379.2 1458.5,1373.4 1459,1377 1459.5,1378.8 1460,1379.6 1460.5,1377.8 1461,1377.8 1461.5,1379.9 1462,1380.2 1462.5,1378.1 1463,1377.1 1463.5,1379.7 1464,1379 1464.5,1376.3 1465,1376.4 1465.5,1379.3 1466,1379.4 1466.5,1376.6 1467,1376.2 1467.5,1379.1 1468,1379.2 1468.5,1376.4 1469,1374.9 1469.5,1378.1 1470,1377.6 1470.5,1374.4 1471,1373.8 1471.5,1378.1 1472,1378.1 1472.5,1373.8 1473,1374.6 1473.5,1379.7 1474,1379.8 1474.5,1374.8 1475,1375.5 1475.5,1378.8 1476,1378.6 1476.5,1375.2 1477,1373.5 1477.5,1377.2 1478,1377.6 1478.5,1374 1479,1376.4 1479.5,1380 1480,1380.4 1480.5,1376.7 1481,1377.7 1481.5,1380.1 1482,1380.2 1482.5,1377.8 1483,1375.1 1483.5,1378.6 1484,1377.7 1484.5,1374.2 1485,1374.6 1485.5,1377.7 1486,1376.7 1486.5,1373.5 1487,1375.3 1487.5,1376.8 1488,1376.1 1488.5,1374.6 1489,1373.9 1489.5,1376.2 1490,1375.2 1490.5,1372.9 1491,1373 1491.5,1374.8 1492,1375 1492.5,1373.2 1493,1373.1 1493.5,1375.6 1494,1374.9 1494.5,1372.3 1495,1373.2 1495.5,1376.5 1496,1377.8 1496.5,1374.6 1497,1375.9 1497.5,1379 1498,1377.8 1498.5,1374.7 1499,1372.8 1499.5,1375.7 1500,1376.4 1500.5,1373.5 1501,1375.3 1501.5,1382.1 1502,1381.5 1502.5,1374.7 1503,1374.5 1503.5,1378 1504,1379 1504.5,1375.5 1505,1374.9 1505.5,1378.5 1506,1379 1506.5,1375.4 1507,1374.2 1507.5,1378.1 1508,1378.2 1508.5,1374.3 1509,1376.5 1509.5,1380 1510,1379.8 1510.5,1376.3 1511,1377.4 1511.5,1379.6 1512,1379.3 1512.5,1377.2 1513,1374.7 1513.5,1380.5 1514,1379.6 1514.5,1373.8 1515,1376.2 1515.5,1377.8 1516,1378.4 1516.5,1376.8 1517,1372.1 1517.5,1376.9 1518,1377 1518.5,1372.3 1519,1373.6 1519.5,1377.8 1520,1378.1 1520.5,1374 1521,1375.1 1521.5,1378.7 1522,1378.9 1522.5,1375.3 1523,1372.9 1523.5,1376.1 1524,1376.6 1524.5,1373.3 1525,1374.2 1525.5,1376.7 1526,1377.5 1526.5,1375 1527,1373.4 1527.5,1376.3 1528,1376.8 1528.5,1373.9 1529,1374.5 1529.5,1377.3 1530,1378.2 1530.5,1375.3 1531,1372.6 1531.5,1378.4 1532,1378.8 1532.5,1373 1533,1374.1 1533.5,1379.2 1534,1378.7 1534.5,1373.6 1535,1373.7 1535.5,1377.9 1536,1377.5 1536.5,1373.3 1537,1374.2 1537.5,1375.5 1538,1376.9 1538.5,1375.6 1539,1373 1539.5,1378.9 1540,1379.4 1540.5,1373.5 1541,1375.3 1541.5,1378.2 1542,1378.3 1542.5,1375.4 1543,1375.3 1543.5,1377.2 1544,1377.7 1544.5,1375.8 1545,1375.2 1545.5,1379.9 1546,1380.7 1546.5,1376 1547,1376 1547.5,1378 1548,1377.8 1548.5,1375.8 1549,1376.1 1549.5,1379.5 1550,1378.4 1550.5,1374.9 1551,1374.9 1551.5,1378.2 1552,1378.3 1552.5,1375 1553,1375.1 1553.5,1379.1 1554,1380.1 1554.5,1376.1 1555,1376.2 1555.5,1378.1 1556,1379.2 1556.5,1377.3 1557,1377.3 1557.5,1380.6 1558,1380.1 1558.5,1376.8 1559,1375.8 1559.5,1378.9 1560,1379.5 1560.5,1376.5 1561,1377.2 1561.5,1379.6 1562,1379.1 1562.5,1376.6 1563,1376.8 1563.5,1379 1564,1379.4 1564.5,1377.2 1565,1376 1565.5,1380.6 1566,1381.6 1566.5,1377 1567,1377.5 1567.5,1379.3 1568,1379.3 1568.5,1377.5 1569,1376.3 1569.5,1379.7 1570,1378.7 1570.5,1375.3 1571,1374.5 1571.5,1377.4 1572,1378.1 1572.5,1375.2 1573,1376.4 1573.5,1378.7 1574,1378.9 1574.5,1376.6 1575,1376.6 1575.5,1378.8 1576,1379.9 1576.5,1377.7 1577,1375.9 1577.5,1378 1578,1378.9 1578.5,1376.8 1579,1376.3 1579.5,1380.4 1580,1379.4 1580.5,1375.3 1581,1378.1 1581.5,1381.3 1582,1381.9 1582.5,1378.7 1583,1378 1583.5,1380.2 1584,1379.2 1584.5,1377 1585,1376.9 1585.5,1379.9 1586,1379.7 1586.5,1376.6 1587,1372.3 1587.5,1379.3 1588,1378.8 1588.5,1371.8 1589,1372.5 1589.5,1377.8 1590,1379.3 1590.5,1374 1591,1375.1 1591.5,1379.7 1592,1379.7 1592.5,1375.1 1593,1377.1 1593.5,1379.5 1594,1379.7 1594.5,1377.3 1595,1375.5 1595.5,1378.7 1596,1379.3 1596.5,1376.1 1597,1378 1597.5,1380.5 1598,1381.8 1598.5,1379.3 1599,1376.4 1599.5,1381.8 1600,1381.2 1600.5,1375.8 1601,1376.3 1601.5,1378.5 1602,1377.2 1602.5,1375 1603,1375.2 1603.5,1378.1 1604,1378.7 1604.5,1375.9 1605,1376.2 1605.5,1378.3 1606,1379.3 1606.5,1377.3 1607,1377.5 1607.5,1381 1608,1380.9 1608.5,1377.5 1609,1378.3 1609.5,1380.9 1610,1381.2 1610.5,1378.6 1611,1378.4 1611.5,1381.3 1612,1380.5 1612.5,1377.7 1613,1374 1613.5,1378.6 1614,1379.1 1614.5,1374.5 1615,1376.9 1615.5,1380.5 1616,1379.4 1616.5,1375.8 1617,1374.7 1617.5,1378.4 1618,1377.9 1618.5,1374.2 1619,1375.4 1619.5,1379 1620,1379 1620.5,1375.5 1621,1377.4 1621.5,1380.7 1622,1379.7 1622.5,1376.4 1623,1377.3 1623.5,1379.8 1624,1379.8 1624.5,1377.3 1625,1377.8 1625.5,1380.7 1626,1381.2 1626.5,1378.3 1627,1376.6 1627.5,1381.6 1628,1382.3 1628.5,1377.3 1629,1378.5 1629.5,1381.4 1630,1382 1630.5,1379.1 1631,1378.1 1631.5,1381.8 1632,1380.2 1632.5,1376.6 1633,1376.2 1633.5,1379.8 1634,1379.6 1634.5,1376 1635,1375.8 1635.5,1381.1 1636,1381 1636.5,1375.7 1637,1377.8 1637.5,1379.6 1638,1379.3 1638.5,1377.5 1639,1376 1639.5,1380.2 1640,1380 1640.5,1375.8 1641,1374.4 1641.5,1378.7 1642,1379.1 1642.5,1374.8 1643,1377.2 1643.5,1380.6 1644,1381.2 1644.5,1377.9 1645,1377.4 1645.5,1379.7 1646,1380.1 1646.5,1377.7 1647,1377.6 1647.5,1380.5 1648,1380.5 1648.5,1377.6 1649,1377.9 1649.5,1379.5 1650,1380.4 1650.5,1378.9 1651,1378.2 1651.5,1380.1 1652,1380.1 1652.5,1378.2 1653,1376.6 1653.5,1378.5 1654,1378.3 1654.5,1376.4 1655,1377 1655.5,1380.3 1656,1380.4 1656.5,1377.2 1657,1377.8 1657.5,1379.8 1658,1379.4 1658.5,1377.5 1659,1379 1659.5,1380.6 1660,1380.9 1660.5,1379.3 1661,1378.8 1661.5,1382.3 1662,1381.1 1662.5,1377.6 1663,1377.3 1663.5,1381.6 1664,1382.4 1664.5,1378.1 1665,1379.2 1665.5,1383.7 1666,1381.4 1666.5,1376.9 1667,1377.6 1667.5,1380 1668,1379.6 1668.5,1377.2 1669,1377.3 1669.5,1381.7 1670,1382.2 1670.5,1377.8 1671,1378.8 1671.5,1380.3 1672,1379.7 1672.5,1378.1 1673,1376.8 1673.5,1380.8 1674,1382 1674.5,1378 1675,1376.6 1675.5,1382 1676,1381.7 1676.5,1376.4 1677,1378.3 1677.5,1382 1678,1381.7 1678.5,1378 1679.7,1378 1681.8,1244.2 1683.9,1377 1685,1376.5 1685.5,1380.7 1686,1382.1 1686.5,1377.8 1687,1378.1 1687.5,1380.7 1688,1381.1 1688.5,1378.5 1689,1378.9 1689.5,1381.9 1690,1382.3 1690.5,1379.3 1691,1377.2 1691.5,1382 1692,1381.5 1692.5,1376.6 1693,1378.7 1693.5,1381.2 1694,1380.5 1694.5,1378 1695,1376.3 1695.5,1385.6 1696,1385.3 1696.5,1376 1697,1375.3 1697.5,1380.2 1698,1379.2 1698.5,1374.3 1699,1374.7 1699.5,1381.3 1700,1380.3 1700.5,1373.7 1701,1374.5 1701.5,1380.6 1702,1381 1702.5,1374.8 1703,1377 1703.5,1379.7 1704,1380.5 1704.5,1377.9 1705,1377 1705.5,1382.4 1706,1383.3 1706.5,1377.9 1707,1377.4 1707.5,1380.7 1708,1380.6 1708.5,1377.3 1709,1376.5 1709.5,1379.7 1710,1379 1710.5,1375.8 1711,1377.3 1711.5,1380.7 1712,1381 1712.5,1377.6 1713,1375.8 1713.5,1382.1 1714,1382.9 1714.5,1376.6 1715,1378.4 1715.5,1380.8 1716,1380.8 1716.5,1378.4 1717,1377.9 1717.5,1381.3 1718,1381.6 1718.5,1378.1 1719,1377.9 1719.5,1380.7 1720,1378.8 1720.5,1376 1721,1375 1721.5,1379.9 1722,1380.5 1722.5,1375.6 1723,1377.7 1723.5,1381.8 1724,1381.4 1724.5,1377.4 1725,1375.3 1725.5,1382.9 1726,1382.3 1726.5,1374.8 1727,1376.1 1727.5,1383.1 1728,1383 1728.5,1376.1 1729,1374.1 1729.5,1379.4 1730,1380.5 1730.5,1375.2 1731,1377.3 1731.5,1381 1732,1382.2 1732.5,1378.5 1733,1377.3 1733.5,1381.4 1734,1381.1 1734.5,1377 1735,1375.4 1735.5,1379.3 1736,1380.8 1736.5,1376.9 1737,1376.2 1737.5,1381.8 1738,1381.7 1738.5,1376.1 1739,1378.7 1739.5,1382.3 1740,1382.3 1740.5,1378.7 1741,1374.2 1741.5,1380.8 1742,1382.4 1742.5,1375.8 1743,1379.2 1743.5,1382.4 1744,1382 1744.5,1378.8 1745,1378.9 1745.5,1384.1 1746,1382.3 1746.5,1377 1747,1374.1 1747.5,1381.9 1748,1382.1 1748.5,1374.3 1749,1377.6 1749.5,1380.2 1750,1380.2 1750.5,1377.7 1751,1376.6 1751.5,1379.8 1752,1379.9 1752.5,1376.7 1753,1378.1 1753.5,1382.2 1754,1381.6 1754.5,1377.5 1755,1378.3 1755.5,1381.1 1756,1382.4 1756.5,1379.6 1757,1380.3 1757.5,1382.8 1758,1382.3 1758.5,1379.8 1759,1377.1 1759.5,1381.7 1760,1381.1 1760.5,1376.5 1761,1378.7 1761.5,1381.8 1762,1380.8 1762.5,1377.8 1763,1378.3 1763.5,1381.7 1764,1381.2 1764.5,1377.9 1765,1375.5 1765.5,1382.2 1766,1382.2 1766.5,1375.4 1767,1380.7 1767.5,1384 1768,1384.6 1768.5,1381.3 1769,1380.2 1769.5,1384.2 1770,1385.3 1770.5,1381.3 1771,1381.3 1771.5,1385.4 1772,1386.2 1772.5,1382.1 1773,1380 1773.5,1383.5 1774,1383 1774.5,1379.6 1775,1380.4 1775.5,1383.4 1776,1383.1 1776.5,1380.1 1777,1379.3 1777.5,1381.9 1778,1380.9 1778.5,1378.3 1779,1377.4 1779.5,1379.7 1780,1380.7 1780.5,1378.3 1781,1377.4 1781.5,1382.8 1782,1383.5 1782.5,1378.2 1783,1377.5 1783.5,1380.4 1784,1380.7 1784.5,1377.8 1785,1377.6 1785.5,1381.3 1786,1379.7 1786.5,1376 1787,1375.9 1787.5,1381.8 1788,1383.5 1788.5,1377.6 1789,1377.9 1789.5,1380.2 1790,1380.5 1790.5,1378.2 1791,1376.8 1791.5,1381.3 1792,1381.9 1792.5,1377.4 1793,1378 1793.5,1382.2 1794,1382 1794.5,1377.8 1795,1375.3 1795.5,1382.5 1796,1384.4 1796.5,1377.2 1797,1379.7 1797.5,1382.5 1798,1382.5 1798.5,1379.6 1799,1377.3 1799.5,1381.9 1800,1382.7 1800.5,1378 1801,1377.3 1801.5,1381.9 1802,1381.8 1802.5,1377.3 1803,1379.1 1803.5,1382 1804,1381 1804.5,1378.1 1805,1377.7 1805.5,1383.7 1806,1383.4 1806.5,1377.4 1807,1379.1 1807.5,1382.4 1808,1381.6 1808.5,1378.3 1809,1378.7 1809.5,1383.6 1810,1383.6 1810.5,1378.7 1811,1380.1 1811.5,1382.4 1812,1382.5 1812.5,1380.2 1813,1379.5 1813.5,1382.7 1814,1383.1 1814.5,1379.9 1815,1378.7 1815.5,1381.7 1816,1380.6 1816.5,1377.7 1817,1376.7 1817.5,1379.8 1818,1381 1818.5,1377.9 1819,1379.8 1819.5,1382 1820,1381.9 1820.5,1379.7 1821,1378.4 1821.5,1381.6 1822,1383 1822.5,1379.9 1823,1380.4 1823.5,1385.2 1824,1385.5 1824.5,1380.8 1825,1381.5 1825.5,1385.1 1826,1385.5 1826.5,1381.9 1827,1378.8 1827.5,1383.5 1828,1383.8 1828.5,1379.2 1829,1378.1 1829.5,1383.7 1830,1382.6 1830.5,1377 1831,1380.5 1831.5,1384.6 1832,1384.8 1832.5,1380.8 1833,1381.1 1833.5,1384.5 1834,1383.7 1834.5,1380.3 1835,1378.9 1835.5,1382.7 1836,1382.2 1836.5,1378.5 1837,1375.8 1837.5,1381.8 1838,1381.1 1838.5,1375 1839,1377.2 1839.5,1382.1 1840,1382.6 1840.5,1377.7 1841,1377.7 1841.5,1382.2 1842,1381.1 1842.5,1376.7 1843,1379.3 1843.5,1381.6 1844,1381.1 1844.5,1378.8 1845,1377.1 1845.5,1385.3 1846,1385.9 1846.5,1377.8 1847,1379.2 1847.5,1382.4 1848,1383 1848.5,1379.7 1849,1379.8 1849.5,1382.8 1850,1383.1 1850.5,1380.1 1851,1379.7 1851.5,1382.4 1852,1382.6 1852.5,1379.9 1853,1379.4 1853.5,1382.7 1854,1382.5 1854.5,1379.2 1855,1379.7 1855.5,1383.5 1856,1383.7 1856.5,1379.9 1857,1379.6 1857.5,1382.1 1858,1383.5 1858.5,1381 1859,1379.7 1859.5,1386.5 1860,1386.7 1860.5,1379.9 1861,1381.6 1861.5,1384.2 1862,1383.6 1862.5,1381 1863,1380.4 1863.5,1384.2 1864,1383.7 1864.5,1379.8 1865,1377.9 1865.5,1381.8 1866,1382.5 1866.5,1378.6 1867,1380.5 1867.5,1383.2 1868,1383.3 1868.5,1380.6 1869,1378.9 1869.5,1381.8 1870,1383.6 1870.5,1380.7 1871,1381.8 1871.5,1386.9 1872,1386.8 1872.5,1381.6 1873,1380.8 1873.5,1383.9 1874,1383.5 1874.5,1380.4 1875,1380.5 1875.5,1385.9 1876,1383.7 1876.5,1378.3 1877,1378.3 1877.5,1381.4 1878,1381.7 1878.5,1378.6 1879,1377.8 1879.5,1382.4 1880,1383.9 1880.5,1379.2 1881,1382 1881.5,1384.9 1882,1384.5 1882.5,1381.5 1883,1379.6 1883.5,1382.7 1884,1383.5 1884.5,1380.3 1885,1380 1885.5,1382.6 1886,1383.2 1886.5,1380.6 1887,1377.8 1887.5,1384.6 1888,1384.8 1888.5,1377.9 1889,1381.4 1889.5,1385 1890,1384.9 1890.5,1381.3 1891,1380.8 1891.5,1383.7 1892,1382.8 1892.5,1379.9 1893,1380.6 1893.5,1385.8 1894,1384.6 1894.5,1379.4 1895,1380.3 1895.5,1384.4 1896,1385 1896.5,1380.8 1897,1380.8 1897.5,1384.9 1898,1386.3 1898.5,1382.2 1899,1381.8 1899.5,1385.1 1900,1384.9 1900.5,1381.6 1901,1381.3 1901.5,1384.3 1902,1384.8 1902.5,1381.8 1903,1380.9 1903.5,1383.1 1904,1383.8 1904.5,1381.6 1905,1375.8 1905.5,1386.3 1906,1386.2 1906.5,1375.6 1907,1379.8 1907.5,1383.7 1908,1383 1908.5,1379.1 1909,1380.6 1909.5,1384 1910,1384.6 1910.5,1381.2 1911,1381.3 1911.5,1384.2 1912,1384.9 1912.5,1382 1913,1380.4 1913.5,1388.1 1914,1386.4 1914.5,1378.7 1915,1380.3 1915.5,1386.7 1916,1385.8 1916.5,1379.4 1917,1379.4 1917.5,1382.8 1918,1383.3 1918.5,1379.9 1919,1380.1 1919.5,1383.5 1920,1383.9 1920.5,1380.5 1921,1383.3 1921.5,1386.2 1922,1384.6 1922.5,1381.8 1923,1381.9 1923.5,1385.6 1924,1384.7 1924.5,1381 1925,1381.5 1925.5,1384.1 1926,1383.2 1926.5,1380.6 1927,1378.6 1927.5,1384.2 1928,1385.4 1928.5,1379.8 1929,1379 1929.5,1384 1930,1383 1930.5,1377.9 1931,1378.3 1931.5,1384 1932,1385.8 1932.5,1380.2 1933,1381.5 1933.5,1386 1934,1384.8 1934.5,1380.3 1935,1381.2 1935.5,1384.6 1936,1385.1 1936.5,1381.8 1937,1381.2 1937.5,1384.9 1938,1383.3 1938.5,1379.6 1939,1380.2 1939.5,1385 1940,1385.5 1940.5,1380.7 1941,1379.2 1941.5,1383.7 1942,1383.8 1942.5,1379.3 1943,1379.9 1943.5,1384.3 1944,1383.8 1944.5,1379.4 1945,1377.9 1945.5,1382.7 1946,1382.6 1946.5,1377.8 1947,1378.7 1947.5,1383.3 1948,1382.5 1948.5,1377.9 1949,1380.6 1949.5,1383.4 1950,1384.1 1950.5,1381.2 1951,1379.1 1951.5,1386.1 1952,1385 1952.5,1377.9 1953,1381.5 1953.5,1384.6 1954,1384.5 1954.5,1381.4 1955,1381.8 1955.5,1385.1 1956,1386.6 1956.5,1383.4 1957,1381.6 1957.5,1386.1 1958,1386.4 1958.5,1381.8 1959,1379.2 1959.5,1385 1960,1384.3 1960.5,1378.6 1961,1378.1 1961.5,1382.4 1962,1383.9 1962.5,1379.5 1963,1379.6 1963.5,1383 1964,1383 1964.5,1379.6 1965,1380.7 1965.5,1384.1 1966,1383.3 1966.5,1379.9 1967,1380.5 1967.5,1383.7 1968,1383.5 1968.5,1380.3 1969,1382.4 1969.5,1388 1970,1388.4 1970.5,1382.8 1971,1381.2 1971.5,1385.4 1972,1386.3 1972.5,1382.1 1973,1379.8 1973.5,1385 1974,1383.9 1974.5,1378.8 1975,1381.6 1975.5,1384.3 1976,1383.6 1976.5,1381 1977,1379.9 1977.5,1384.4 1978,1384.7 1978.5,1380.2 1979,1379.4 1979.5,1385.3 1980,1385.6 1980.5,1379.7 1981,1384.1 1981.5,1387 1982,1386.9 1982.5,1384 1983,1382.3 1983.5,1386.3 1984,1386.2 1984.5,1382.2 1985,1383.6 1985.5,1386.4 1986,1387.6 1986.5,1384.7 1987,1381.5 1987.5,1385.4 1988,1385.5 1988.5,1381.5 1989,1381.3 1989.5,1383.8 1990,1383.2 1990.5,1380.7 1991,1380.8 1991.5,1386.1 1992,1386 1992.5,1380.6 1993,1380 1993.5,1383.3 1994,1383.5 1994.5,1380.2 1995,1379.2 1995.5,1382.2 1996,1382.1 1996.5,1379 1997,1378 1997.5,1383.7 1998,1384 1998.5,1378.4 1999,1377.3 1999.5,1381.2 2000,1381.2 2000.5,1377.3 2001,1379.1 2001.5,1382.8 2002,1382.7 2002.5,1379 2003,1380.3 2003.5,1382.7 2004,1383.3 2004.5,1380.9 2005,1380.5 2005.5,1385.2 2006,1384.9 2006.5,1380.2 2007,1380.6 2007.5,1384.9 2008,1384.4 2008.5,1380.2 2009,1380.7 2009.5,1384.3 2010,1384 2010.5,1380.4 2011,1380.6 2011.5,1383.5 2012,1382.7 2012.5,1379.8 2013,1381 2013.5,1384 2014,1383.6 2014.5,1380.6 2015,1381.4 2015.5,1386.9 2016,1386.6 2016.5,1381.1 2017,1382.4 2017.5,1385.4 2018,1385.2 2018.5,1382.2 2019,1382.6 2019.5,1389.2 2020,1389.4 2020.5,1382.8 2021,1382.8 2021.5,1386.1 2022,1385.4 2022.5,1382.1 2023,1380.4 2023.5,1385.4 2024,1386.6 2024.5,1381.7 2025,1384.6 2025.5,1388.5 2026,1388 2026.5,1384.1 2027,1381.6 2027.5,1386.2 2028,1385.7 2028.5,1381 2029,1380 2029.5,1387.2 2030,1387.1 2030.5,1379.9 2031,1383 2031.5,1385.5 2032,1385.5 2032.5,1382.9 2033,1381.1 2033.5,1384.9 2034,1385.3 2034.5,1381.5 2035,1381.2 2035.5,1386.7 2036,1386.4 2036.5,1380.9 2037,1382.1 2037.5,1387 2038,1386.5 2038.5,1381.6 2039,1383.2 2039.5,1386.4 2040,1384.8 2040.5,1381.7 2041,1384 2041.5,1386.3 2042,1384.9 2042.5,1382.6 2043,1380.2 2043.5,1386.3 2044,1386.1 2044.5,1380.1 2045,1382.6 2045.5,1386.5 2046,1386.3 2046.5,1382.4 2047,1382.2 2047.5,1388.7 2048,1388.3 2048.5,1381.8 2049,1382.8 2049.5,1386.6 2050,1387.1 2050.5,1383.2 2051,1383.4 2051.5,1387.3 2052,1386.4 2052.5,1382.5 2053,1380.8 2053.5,1385.4 2054,1386.6 2054.5,1382 2055,1380.7 2055.5,1386.4 2056,1385.9 2056.5,1380.2 2057,1382.6 2057.5,1385.8 2058,1385.3 2058.5,1382.1 2059,1379.2 2059.5,1385 2060,1385.6 2060.5,1379.7 2061,1381.9 2061.5,1386 2062,1386.6 2062.5,1382.6 2063,1381.8 2063.5,1385.5 2064,1384.8 2064.5,1381.1 2065,1381.5 2065.5,1385.1 2066,1385.5 2066.5,1381.9 2067,1380.5 2067.5,1384.9 2068,1384.2 2068.5,1379.8" fill="none" stroke="#0000a0" stroke-width="6" stroke-linejoin="round" stroke-linecap="round" shape-rendering="crispEdges"/>
<!-- inset -->
<g stroke="#000" stroke-width="4.6" fill="none">
<line x1="1444.5" y1="23.0" x2="1444.5" y2="604.1" stroke-width="5"/>
<line x1="1442.5" y1="601.8" x2="2064.0" y2="601.8"/>
</g>
<g stroke="#000" stroke-width="4.2" fill="none" stroke-linecap="round">
<line x1="1435.3" y1="601.80" x2="1444.8" y2="601.80" stroke-width="4.6"/>
<line x1="1440.3" y1="503.30" x2="1444.8" y2="503.30" stroke-width="4.6"/>
<line x1="1435.3" y1="404.80" x2="1444.8" y2="404.80" stroke-width="4.6"/>
<line x1="1440.3" y1="306.30" x2="1444.8" y2="306.30" stroke-width="4.6"/>
<line x1="1435.3" y1="207.80" x2="1444.8" y2="207.80" stroke-width="4.6"/>
<line x1="1440.3" y1="109.30" x2="1444.8" y2="109.30" stroke-width="4.6"/>
<line x1="1496.20" y1="601.8" x2="1496.20" y2="606.7"/>
<line x1="1581.87" y1="601.8" x2="1581.87" y2="611.6"/>
<line x1="1667.54" y1="601.8" x2="1667.54" y2="606.7"/>
<line x1="1753.21" y1="601.8" x2="1753.21" y2="611.6"/>
<line x1="1838.88" y1="601.8" x2="1838.88" y2="606.7"/>
<line x1="1924.55" y1="601.8" x2="1924.55" y2="611.6"/>
<line x1="2010.22" y1="601.8" x2="2010.22" y2="606.7"/>
</g>
<g font-family="'Liberation Sans', Arial, Helvetica, sans-serif" fill="#000" filter="url(#bw)">
<text transform="translate(0 224) scale(1.0 1.035)"><tspan x="1285.83 1311.53 1323.42 1345.72 1368.14 1391.33" y="0" font-size="42.8" stroke="#000" stroke-width="0.2">6.0x10</tspan><tspan x="1414.68" y="-20.48" font-size="26.99" textLength="14.79" lengthAdjust="spacingAndGlyphs" stroke="#000" stroke-width="0.2">6</tspan></text>
<text transform="translate(0 421) scale(1.0 1.035)"><tspan x="1286.37 1312.07 1323.96 1346.27 1368.68 1391.87" y="0" font-size="42.8" stroke="#000" stroke-width="0.2">3.0x10</tspan><tspan x="1414.68" y="-20.48" font-size="26.99" textLength="14.79" lengthAdjust="spacingAndGlyphs" stroke="#000" stroke-width="0.2">6</tspan></text>
<text transform="translate(0 614.8) scale(1.0 1.035)"><tspan x="1369.47" y="0" font-size="42.8" stroke="#000" stroke-width="0.2">0.0</tspan></text>
<text transform="translate(0 652.2) scale(1.0 1.035)"><tspan x="1535.04" y="0" font-size="42.8" stroke="#000" stroke-width="0.2">5200</tspan></text>
<text transform="translate(0 652.2) scale(1.0 1.035)"><tspan x="1706.58" y="0" font-size="42.8" stroke="#000" stroke-width="0.2">5250</tspan></text>
<text transform="translate(0 652.2) scale(1.0 1.035)"><tspan x="1877.72" y="0" font-size="42.8" stroke="#000" stroke-width="0.2">5300</tspan></text>
<text transform="translate(0 726) scale(1.0 1.02)"><tspan x="1672.85" y="0" font-size="51.2" stroke="#fff" stroke-width="0.6">TOF (ns)</tspan></text>
<text transform="translate(0 106.8) scale(1.0 1.04)"><tspan x="1745.58" y="0" font-size="61">Ar</tspan><tspan x="1807.16" y="-28.46" font-size="36.6">2+</tspan></text>
</g>
<polyline points="1445,601.8 1600,601.6 1640,601 1669,597.4 1700.4,592.5 1718.2,586.2 1736.1,576.4 1754,554 1764.1,525.4 1772.3,508.5 1788,492.3 1803.6,529.5 1821.1,565.7 1840.1,582.4 1872.5,597 1890.4,600.3 1925,601.6 2062,601.8" fill="none" stroke="#000" stroke-width="4.6" stroke-linejoin="round"/>
<polyline points="1445,601.8 1736.1,601.5 1754,590.3 1770.0,501.5 1788.1,142.3 1805,386 1822.2,563.4 1839,590.3 1859.1,599.2 1872.5,601.3 2066.3,601.8" fill="none" stroke="#ff0000" stroke-width="4.3" stroke-linejoin="round"/>
<!-- legend -->
<g shape-rendering="crispEdges"><rect x="1864" y="28" width="200" height="149" fill="#fff"/><rect x="1864" y="28" width="2" height="149" fill="#000"/><rect x="1864" y="28" width="200" height="1" fill="#000"/><rect x="1864" y="175" width="200" height="2" fill="#000"/><rect x="2062" y="28" width="2" height="149" fill="#000"/></g>
<line x1="1871.5" y1="70.6" x2="1983.5" y2="70.6" stroke="#000" stroke-width="5.4" stroke-linecap="round"/>
<line x1="1871.5" y1="141.1" x2="1983.5" y2="141.1" stroke="#ff0000" stroke-width="4.2" stroke-linecap="round"/>
<g font-family="'Liberation Sans', Arial, Helvetica, sans-serif" fill="#000" filter="url(#bw)">
<text transform="translate(0 89) scale(1.0 1.045)"><tspan x="1999.68" y="0" font-size="52" textLength="38.02" lengthAdjust="spacingAndGlyphs" stroke="#fff" stroke-width="0.7">O</tspan><tspan x="2038.49" y="-24.31" font-size="29.67" textLength="18.1" lengthAdjust="spacingAndGlyphs">+</tspan></text>
<text transform="translate(0 159.3) scale(1.0 1.045)"><tspan x="1999.68" y="0" font-size="52" textLength="38.02" lengthAdjust="spacingAndGlyphs" stroke="#fff" stroke-width="0.7">O</tspan><tspan x="2038.79" y="-24.31" font-size="29.67" textLength="17.24" lengthAdjust="spacingAndGlyphs">0</tspan></text>
</g>
<!-- Arial-style "1": hide the foot serif -->
<g fill="#fff" shape-rendering="crispEdges"><rect x="181" y="1310" width="15" height="9"/><rect x="203" y="1310" width="14" height="9"/><rect x="181" y="946" width="15" height="9"/><rect x="203" y="946" width="14" height="9"/><rect x="181" y="582" width="15" height="8"/><rect x="203" y="582" width="14" height="8"/><rect x="181" y="217" width="15" height="9"/><rect x="203" y="217" width="14" height="9"/><rect x="1257" y="1520" width="15" height="9"/><rect x="1279" y="1520" width="14" height="9"/><rect x="1573" y="1520" width="15" height="9"/><rect x="1595" y="1520" width="14" height="9"/><rect x="1889" y="1520" width="15" height="9"/><rect x="1911" y="1520" width="14" height="9"/><rect x="1369" y="220" width="10" height="6"/><rect x="1383" y="220" width="9" height="6"/><rect x="1369" y="417" width="10" height="6"/><rect x="1383" y="417" width="10" height="6"/></g>
</svg>
</body></html>
